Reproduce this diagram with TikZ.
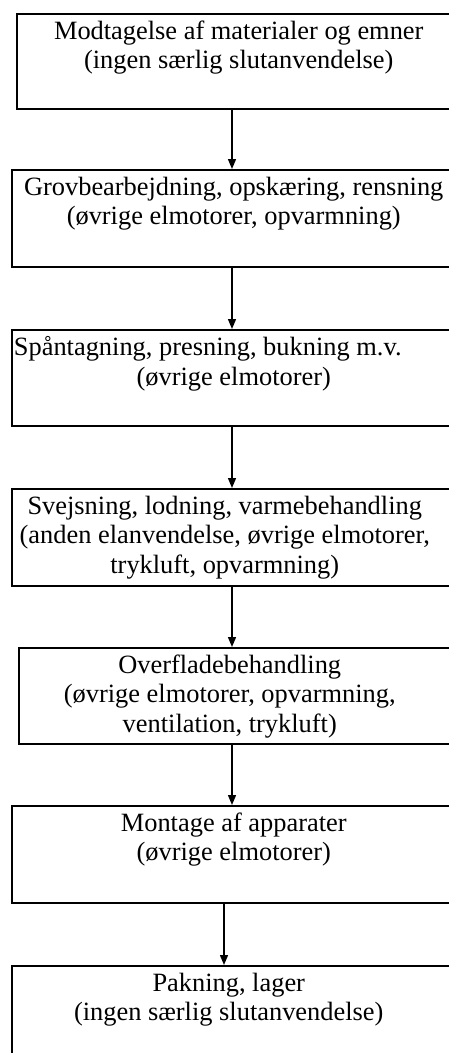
\documentclass[tikz,border=0pt]{standalone}
\usepackage{fontspec}
\setmainfont{Liberation Serif}
\usetikzlibrary{arrows.meta, positioning}

% text block inside a box: width, height, lines
\newcommand{\boxtext}[3]{\parbox[t][#2][t]{#1}{\centering\vspace*{7pt}#3}}

\tikzset{
    stepbox/.style={draw, line width=1.5pt, inner sep=0pt, anchor=north west,
        font=\fontsize{26.4pt}{29.5pt}\selectfont},
    flow/.style={-{Triangle[length=10pt,width=8pt]}, line width=1.4pt}
}

\begin{document}
\begin{tikzpicture}
    \clip (0,0) rectangle (449pt,-1053pt);
    \useasboundingbox (0,0) rectangle (449pt,-1053pt);

    % --- processing steps, top to bottom ---
    \node[stepbox] (modtag) at (16pt,-13pt) {\boxtext{444pt}{95pt}{Modtagelse af materialer og emner\\(ingen særlig slutanvendelse)}};
    \node[stepbox] (grov) at (11pt,-169pt) {\boxtext{444pt}{97pt}{Grovbearbejdning, opskæring, rensning\\(øvrige elmotorer, opvarmning)}};
    \node[stepbox] (spaan) at (11pt,-329pt) {\boxtext{444pt}{96pt}{Spåntagning, presning, bukning m.v.\hspace*{52pt}\mbox{}\\(øvrige elmotorer)}};
    \node[stepbox] (svejs) at (11pt,-488pt) {\boxtext{426pt}{97pt}{Svejsning, lodning, varmebehandling\\(anden elanvendelse, øvrige elmotorer,\\trykluft, opvarmning)}\hspace*{18pt}};
    \node[stepbox] (overflade) at (18pt,-647pt) {\boxtext{422pt}{96pt}{Overfladebehandling\\(øvrige elmotorer, opvarmning,\\ventilation, trykluft)}\hspace*{15pt}};
    \node[stepbox] (montage) at (11pt,-805pt) {\boxtext{444pt}{97pt}{Montage af apparater\\(øvrige elmotorer)}};
    \node[stepbox] (pakning) at (11pt,-965pt) {\boxtext{434pt}{110pt}{Pakning, lager\\(ingen særlig slutanvendelse)}\hspace*{10pt}};

    % arrow lines
    \coordinate (axis) at (232pt,0);
    \coordinate (axisb) at (224pt,0);
    \draw[flow] (modtag.south -| axis) -- (grov.north -| axis);
    \draw[flow] (grov.south -| axis) -- (spaan.north -| axis);
    \draw[flow] (spaan.south -| axis) -- (svejs.north -| axis);
    \draw[flow] (svejs.south -| axis) -- (overflade.north -| axis);
    \draw[flow] (overflade.south -| axis) -- (montage.north -| axis);
    \draw[flow] (montage.south -| axisb) -- (pakning.north -| axisb);
\end{tikzpicture}
\end{document}
